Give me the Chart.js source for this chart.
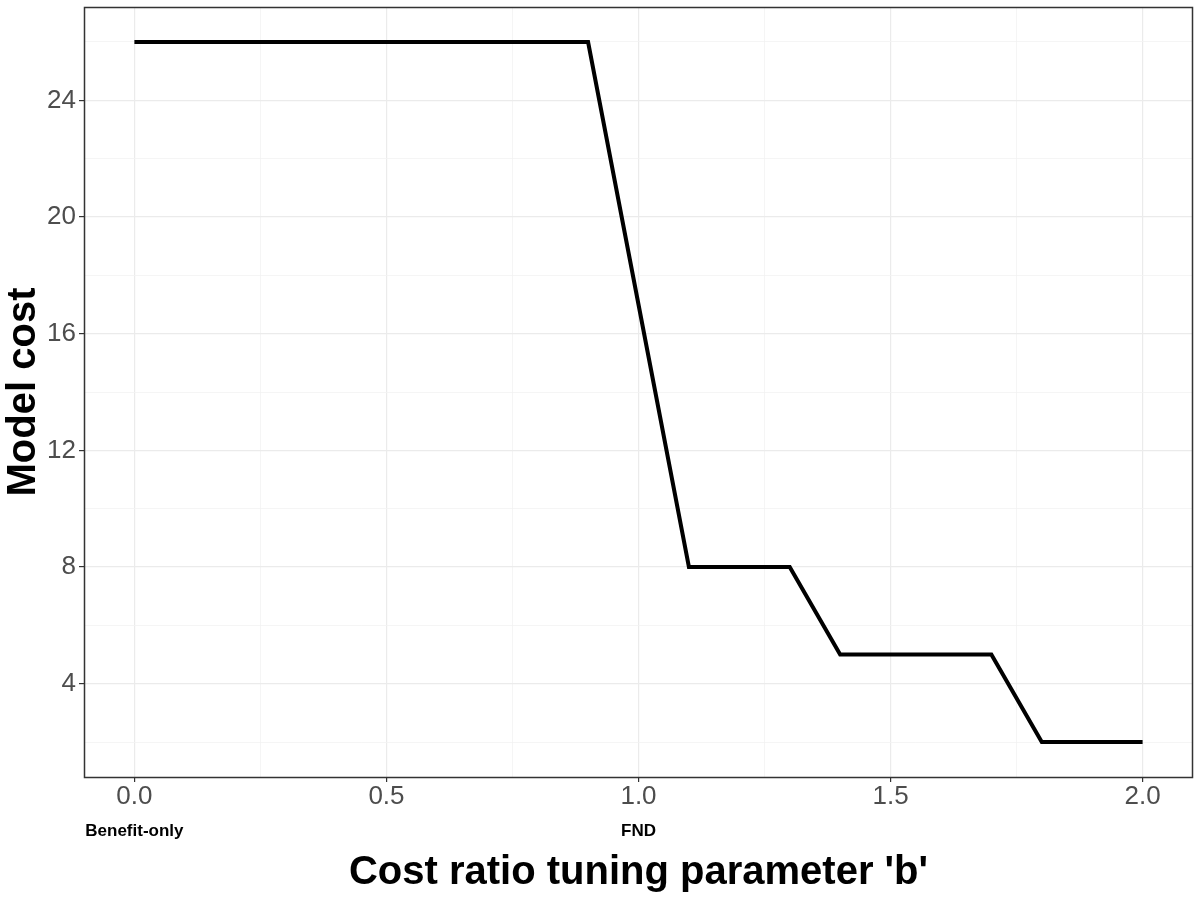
<!DOCTYPE html>
<html>
<head>
<meta charset="utf-8">
<script src="https://cdn.jsdelivr.net/npm/chart.js@4/dist/chart.umd.min.js"></script>
<style>
  html, body { margin: 0; padding: 0; background: #ffffff; }
  #wrap { width: 1200px; height: 900px; }
</style>
</head>
<body>
<div id="wrap"><canvas id="c" width="1200" height="900"></canvas></div>
<script>
// ---- data ----
const bValues = [0.0, 0.1, 0.2, 0.3, 0.4, 0.5, 0.6, 0.7, 0.8, 0.9, 1.0,
                 1.1, 1.2, 1.3, 1.4, 1.5, 1.6, 1.7, 1.8, 1.9, 2.0];
const modelCost = [26, 26, 26, 26, 26, 26, 26, 26, 26, 26, 17,
                   8, 8, 8, 5, 5, 5, 5, 2, 2, 2];
const xMajorTicks = [0, 0.5, 1.0, 1.5, 2.0];
const xMinorTicks = [0.25, 0.75, 1.25, 1.75];
const yMajorTicks = [4, 8, 12, 16, 20, 24];
const yMinorTicks = [2, 6, 10, 14, 18, 22, 26];
const markerLabels = ['Benefit-only', 'FND'];
const markerPositions = [0.0, 1.0];
const xTitle = "Cost ratio tuning parameter 'b'";
const yTitle = 'Model cost';

const FONT = "'Liberation Sans', Arial, Helvetica, sans-serif";

const points = bValues.map((b, i) => ({ x: b, y: modelCost[i] }));

function allTicks(major, minor) {
  return major.concat(minor).sort((a, b) => a - b);
}
function isMajor(list, v) {
  return list.some(m => Math.abs(m - v) < 1e-9);
}

const frameAndMarkers = {
  id: 'frameAndMarkers',
  afterDraw(chart) {
    const { ctx, chartArea } = chart;
    ctx.save();
    ctx.strokeStyle = '#333333';
    ctx.lineWidth = 1.5;
    const l = Math.round(chartArea.left) + 0.5;
    const t = Math.round(chartArea.top) + 0.5;
    const r = Math.round(chartArea.right) - 0.5;
    const b = Math.round(chartArea.bottom) + 0.5;
    ctx.strokeRect(l, t, r - l, b - t);
    const xs = chart.scales.x;
    ctx.fillStyle = '#000000';
    ctx.font = 'bold 17px ' + FONT;
    ctx.textAlign = 'center';
    ctx.textBaseline = 'middle';
    markerLabels.forEach((txt, i) => {
      ctx.fillText(txt, xs.getPixelForValue(markerPositions[i]), 831);
    });
    ctx.restore();
  }
};

new Chart(document.getElementById('c'), {
  type: 'line',
  data: {
    datasets: [{
      data: points,
      borderColor: '#000000',
      borderWidth: 4,
      pointRadius: 0,
      tension: 0,
      fill: false
    }]
  },
  options: {
    responsive: false,
    animation: false,
    devicePixelRatio: 1,
    layout: { padding: { top: 7, right: 7, left: 0, bottom: 0 } },
    plugins: { legend: { display: false }, tooltip: { enabled: false } },
    scales: {
      x: {
        type: 'linear',
        min: -0.1,
        max: 2.1,
        afterBuildTicks(scale) {
          scale.ticks = allTicks(xMajorTicks, xMinorTicks).map(v => ({ value: v }));
        },
        afterFit(scale) {
          scale.height = 123;
          scale.paddingLeft = 0; scale.paddingRight = 0;
        },
        border: { display: false },
        grid: {
          color: ctx => isMajor(xMajorTicks, ctx.tick ? ctx.tick.value : 0) ? '#ebebeb' : '#f2f2f2',
          lineWidth: ctx => isMajor(xMajorTicks, ctx.tick ? ctx.tick.value : 0) ? 1.2 : 0.8,
          tickColor: ctx => isMajor(xMajorTicks, ctx.tick ? ctx.tick.value : 0) ? '#333333' : 'rgba(0,0,0,0)',
          tickLength: 5,
          drawTicks: true
        },
        ticks: {
          autoSkip: false,
          maxRotation: 0,
          padding: 2,
          color: '#4d4d4d',
          font: { family: FONT, size: 26, lineHeight: 1 },
          callback: v => isMajor(xMajorTicks, v) ? Number(v).toFixed(1) : ''
        },
        title: {
          display: true,
          text: xTitle,
          color: '#000000',
          font: { family: FONT, size: 40, weight: 'bold', lineHeight: 1 },
          padding: { top: 0, bottom: 7 }
        }
      },
      y: {
        type: 'linear',
        min: 0.8,
        max: 27.2,
        afterBuildTicks(scale) {
          scale.ticks = allTicks(yMajorTicks, yMinorTicks).map(v => ({ value: v }));
        },
        afterFit(scale) {
          scale.width = 84;
          scale.paddingTop = 0; scale.paddingBottom = 0;
        },
        border: { display: false },
        grid: {
          color: ctx => isMajor(yMajorTicks, ctx.tick ? ctx.tick.value : 0) ? '#ebebeb' : '#f2f2f2',
          lineWidth: ctx => isMajor(yMajorTicks, ctx.tick ? ctx.tick.value : 0) ? 1.2 : 0.8,
          tickColor: ctx => isMajor(yMajorTicks, ctx.tick ? ctx.tick.value : 0) ? '#333333' : 'rgba(0,0,0,0)',
          tickLength: 5,
          drawTicks: true
        },
        ticks: {
          autoSkip: false,
          padding: 3,
          color: '#4d4d4d',
          font: { family: FONT, size: 26, lineHeight: 1 },
          callback: v => isMajor(yMajorTicks, v) ? String(v) : ''
        },
        title: {
          display: true,
          text: yTitle,
          color: '#000000',
          font: { family: FONT, size: 40, weight: 'bold', lineHeight: 1 },
          padding: { top: 4, bottom: 0 }
        }
      }
    }
  },
  plugins: [frameAndMarkers]
});
</script>
</body>
</html>
